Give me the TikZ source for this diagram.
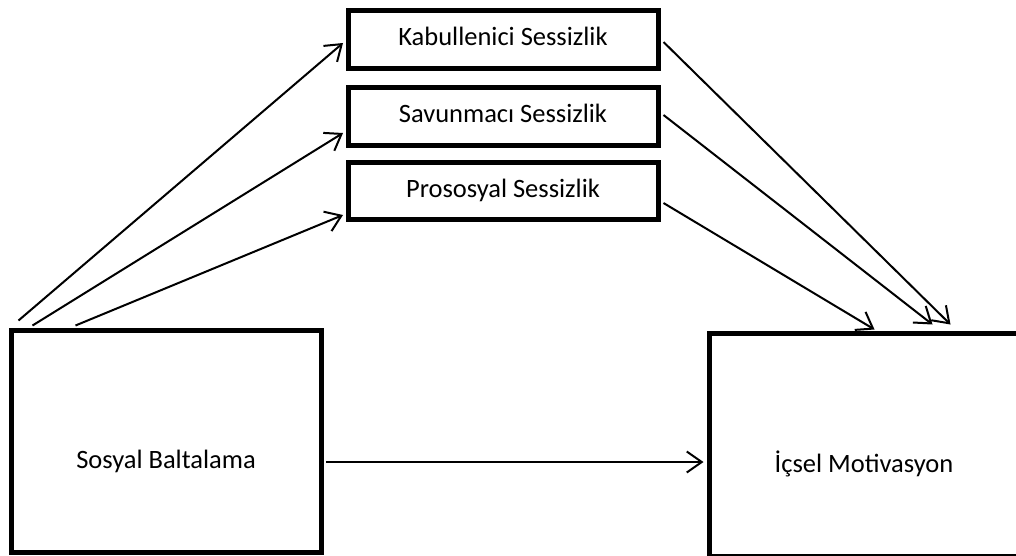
\documentclass[tikz,border=0pt]{standalone}
\usepackage{fontspec}
\setmainfont{Carlito}
\usetikzlibrary{arrows.meta,calc}

\tikzset{
  box/.style={draw=black, line width=5pt, rectangle, inner sep=0pt, fill=white},
  smallbox/.style={box, minimum width=310pt, minimum height=58pt},
  bigbox/.style={box, minimum width=310pt, minimum height=222pt},
  label/.style={inner sep=0pt, anchor=base, font=\fontsize{26.5}{30}\selectfont},
  link/.style={draw=black, line width=2pt, -{Straight Barb[length=15pt, width=21pt, line width=2pt]}}
}

\begin{document}
\begin{tikzpicture}[x=1pt, y=-1pt, font=\fontsize{26.5}{30}\selectfont]
  \useasboundingbox (0,0) rectangle (1016,555);
  \fill[white] (0,0) rectangle (1016,555);
  \clip (0,0) rectangle (1016,555);

  % mediator boxes
  \node[smallbox] (kab) at (503,39) {};
  \node[smallbox] (sav) at (503,116) {};
  \node[smallbox, minimum height=57pt] (pro) at (503,190.5) {};
  \node[label] (kabT) at (503,45) {Kabullenici Sessizlik};
  \node[label] (savT) at (503,122) {Savunmacı Sessizlik};
  \node[label] (proT) at (503,197) {Prososyal Sessizlik};

  % independent and dependent variables
  \node[bigbox] (sb) at (166,441) {};
  \node[bigbox, minimum height=223pt] (im) at (864,444.5) {};
  \node[label] (sbT) at (166,468) {Sosyal Baltalama};
  \node[label] (imT) at (864,472) {İçsel Motivasyon};

  % paths to the mediators
  \draw[link] ($(sb.north west)+(10,-7)$) -- ($(kab.west)+(-2.5,4)$);
  \draw[link] ($(sb.north west)+(24,-2)$) -- ($(sav.west)+(-2.5,17)$);
  \draw[link] ($(sb.north west)+(67,-2)$) -- ($(pro.west)+(-2.5,24.5)$);

  % paths from the mediators
  \draw[link] ($(kab.east)+(3,3)$) -- ($(im.north west)+(244,-6)$);
  \draw[link] ($(sav.east)+(3,-1)$) -- ($(im.north west)+(226,-6)$);
  \draw[link] ($(pro.east)+(3,12.5)$) -- ($(im.north west)+(168,-1)$);

  % direct path
  \draw[link] ($(sb.east)+(2.5,21)$) -- ($(im.west)+(-3,17.5)$);
\end{tikzpicture}
\end{document}
